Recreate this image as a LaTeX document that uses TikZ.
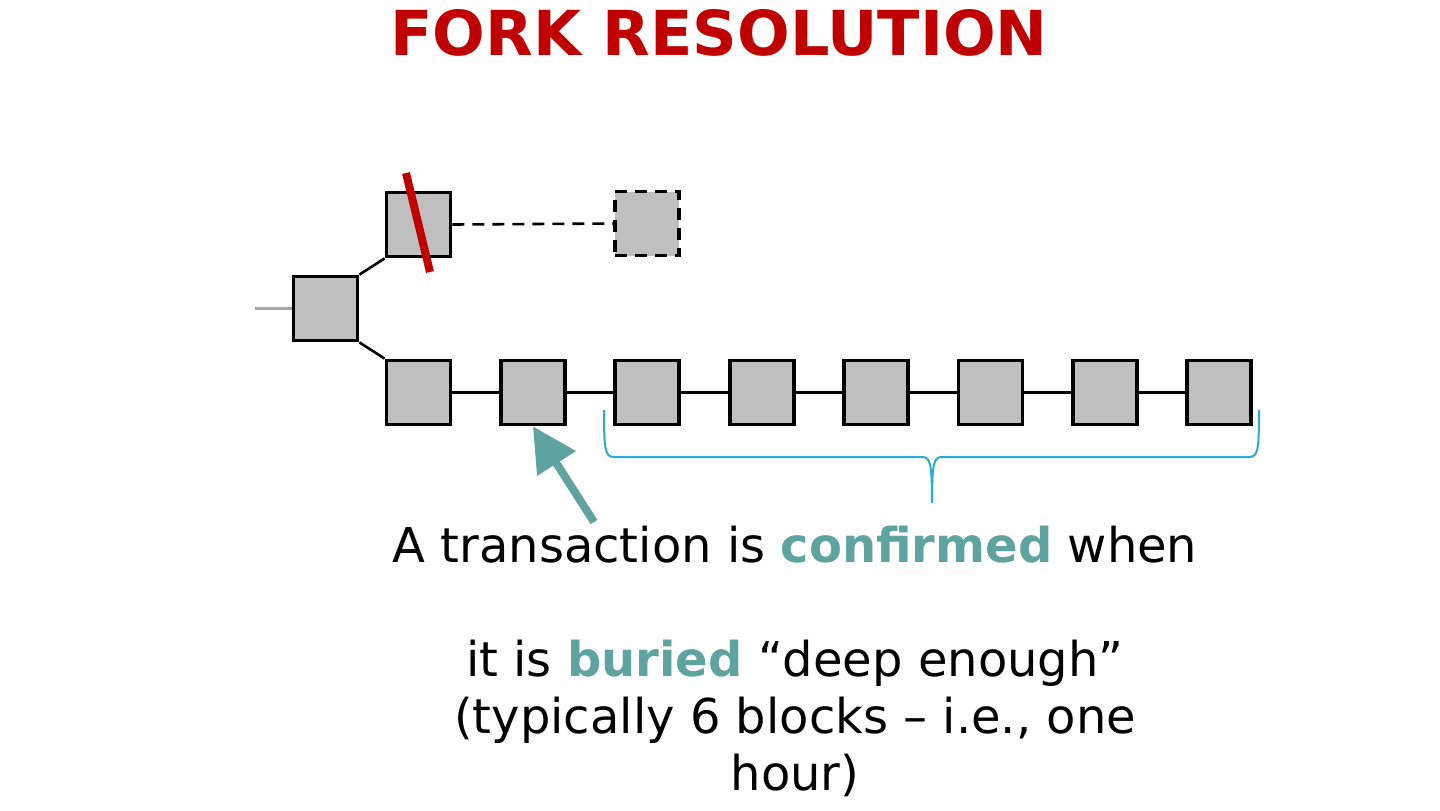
\documentclass[tikz,border=0pt]{standalone}
\usepackage{fontspec}
\setmainfont{DejaVu Sans}
\usetikzlibrary{arrows.meta}
\definecolor{blockgray}{RGB}{191, 191, 191}
\definecolor{darkred}{RGB}{192, 0, 0}
\definecolor{teal}{RGB}{95, 163, 160}
\definecolor{bracecyan}{RGB}{41, 170, 216}

\begin{document}
\begin{tikzpicture}[x=0.5pt, y=-0.5pt,
  blk/.style={draw=black, fill=blockgray, line width=1.9pt, minimum size=32pt, inner sep=0pt},
  link/.style={black, line width=1.3pt},
  ghostline/.style={dash pattern=on 6pt off 4pt}]
  \useasboundingbox (0, 0) rectangle (1440, 810);

  \node[darkred, font=\bfseries\fontsize{31}{37}\selectfont] (title) at (719, 33) {FORK RESOLUTION};

  % fork point and the orphaned branch
  \node[blk] (b0) at (325.5, 308.5) {};
  \node[blk] (up) at (418.5, 224.5) {};
  \node[blk, ghostline] (ghost) at (647, 223.5) {};
  \coordinate (prev) at (255, 308.5);
  \draw[gray!70, line width=1.2pt] (prev) -- (b0.west);
  \draw[link] (b0.north east) -- (up.south west);
  \draw[link, ghostline] (up.east) -- (ghost.west);
  \draw[darkred, line width=4pt] (406, 173) -- (430, 272);

  % main chain
  \foreach \i in {1,...,8}
    \node[blk] (a\i) at ({418.5 + 114.4*(\i-1)}, 392.5) {};
  \draw[link] (b0.south east) -- (a1.north west);
  \foreach \i [count=\j from 2] in {1,...,7}
    \draw[link] (a\i.east) -- (a\j.west);

  % six blocks on top
  \draw[bracecyan, line width=1pt]
    (604, 410) .. controls (604, 450) and (605, 457) .. (614, 457) -- (922, 457)
    .. controls (930, 457) and (932, 462) .. (932, 503)
    .. controls (932, 462) and (934, 457) .. (942, 457) -- (1249, 457)
    .. controls (1258, 457) and (1259, 450) .. (1259, 410);

  \coordinate (tail) at (594, 522);
  \draw[teal, line width=4pt, -{Triangle[length=22pt, width=22pt]}] (tail) -- (a2.south);

  \node[anchor=base, align=center, font=\fontsize{24}{28.5}\selectfont] (msg) at (795, 790)
    {A transaction is \textbf{\color{teal}confirmed} when\\[28.5pt]
     it is \textbf{\color{teal}buried} “deep enough”\\
     (typically 6 blocks – i.e., one\\
     hour)};
\end{tikzpicture}
\end{document}
